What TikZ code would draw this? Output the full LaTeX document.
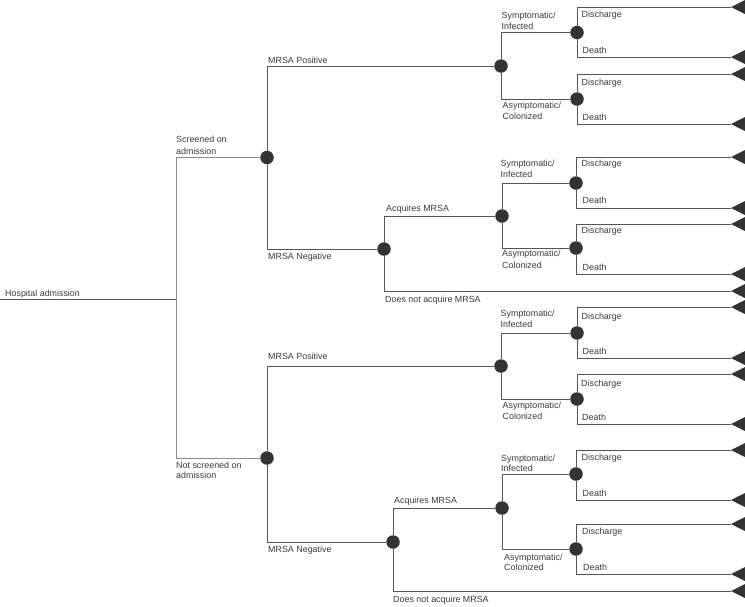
\documentclass[tikz,border=0pt]{standalone}
\usepackage{fontspec}
\setmainfont{Liberation Sans}
\begin{document}
\begin{tikzpicture}[x=1pt,y=-1pt,
  chance/.style={circle,fill=nodecol,draw=none,minimum size=13.5pt,inner sep=0pt},
  branch/.style={draw=linecol,line width=0.9pt},
  lightbranch/.style={draw=lightcol,line width=1pt},
  lab/.style={anchor=base west,inner sep=0pt,text=textcol,font=\fontsize{8.9}{10}\selectfont},
  termtri/.style={fill=nodecol}]
\definecolor{nodecol}{HTML}{333333}
\definecolor{linecol}{HTML}{555555}
\definecolor{lightcol}{HTML}{8C8C8C}
\definecolor{textcol}{HTML}{3A3A3A}
\useasboundingbox (0,0) rectangle (745,606);

% chance nodes
\node[chance] (c1) at (267,157.5) {};
\node[chance] (c2) at (267,458) {};
\node[chance] (c3) at (501,66) {};
\node[chance] (c4) at (384,249) {};
\node[chance] (c5) at (577,32.5) {};
\node[chance] (c6) at (577,99) {};
\node[chance] (c7) at (502,216) {};
\node[chance] (c8) at (576,183) {};
\node[chance] (c9) at (576,248) {};
\node[chance] (c10) at (501,366) {};
\node[chance] (c11) at (393,542) {};
\node[chance] (c12) at (577,333) {};
\node[chance] (c13) at (577,399) {};
\node[chance] (c14) at (502,508) {};
\node[chance] (c15) at (576,474) {};
\node[chance] (c16) at (576,549) {};

% root
\coordinate (r0) at (0,299);
\coordinate (j0) at (176,299);

% terminal apexes
\foreach \n/\y in {1/7,2/57,3/74,4/124,6/157,7/208,8/224,9/274,5/291,10/307,11/358,12/374,13/424,15/450,16/500,17/524,18/574,14/591}{
  \coordinate (t\n) at (731,\y);
  \fill[termtri] (t\n) -- ++(14,-7) -- ++(0,14) -- cycle;
}

% connectors
\draw[branch] (r0) -- (j0);
\draw[lightbranch] (j0) |- (c1);
\draw[lightbranch] (j0) |- (c2);

\draw[branch] (c1) |- (c3);
\draw[branch] (c1) |- (c4);
\draw[branch] (c3) |- (c5);
\draw[branch] (c3) |- (c6);
\draw[branch] (c5) |- (t1);
\draw[branch] (c5) |- (t2);
\draw[branch] (c6) |- (t3);
\draw[branch] (c6) |- (t4);
\draw[branch] (c4) |- (c7);
\draw[branch] (c4) |- (t5);
\draw[branch] (c7) |- (c8);
\draw[branch] (c7) |- (c9);
\draw[branch] (c8) |- (t6);
\draw[branch] (c8) |- (t7);
\draw[branch] (c9) |- (t8);
\draw[branch] (c9) |- (t9);

\draw[branch] (c2) |- (c10);
\draw[branch] (c2) |- (c11);
\draw[branch] (c10) |- (c12);
\draw[branch] (c10) |- (c13);
\draw[branch] (c12) |- (t10);
\draw[branch] (c12) |- (t11);
\draw[branch] (c13) |- (t12);
\draw[branch] (c13) |- (t13);
\draw[branch] (c11) |- (c14);
\draw[branch] (c11) |- (t14);
\draw[branch] (c14) |- (c15);
\draw[branch] (c14) |- (c16);
\draw[branch] (c15) |- (t15);
\draw[branch] (c15) |- (t16);
\draw[branch] (c16) |- (t17);
\draw[branch] (c16) |- (t18);

% labels
\node[lab] (l0) at (5,296) {Hospital admission};
\node[lab] (l1a) at (176,142.5) {Screened on};
\node[lab] (l1b) at (176,154) {admission};
\node[lab] (l2a) at (176,468) {Not screened on};
\node[lab] (l2b) at (176,478.5) {admission};

\node[lab] (l3) at (268,63) {MRSA Positive};
\node[lab] (l4) at (268,259.5) {MRSA Negative};
\node[lab] (l5) at (268,359) {MRSA Positive};
\node[lab] (l6) at (268,552) {MRSA Negative};

\node[lab] (l7) at (386,211) {Acquires MRSA};
\node[lab] (l8) at (385,302) {Does not acquire MRSA};
\node[lab] (l9) at (394,503) {Acquires MRSA};
\node[lab] (l10) at (393,602.5) {Does not acquire MRSA};

% symptomatic / asymptomatic
\foreach \i/\x/\ya/\yb in {a/501.5/18.3/29.3, b/500.5/166.7/177.7, c/500.5/316.7/327.7, d/501/461.7/471.7}{
  \node[lab] (s\i1) at (\x,\ya) {Symptomatic/};
  \node[lab] (s\i2) at (\x,\yb) {Infected};
}
\foreach \i/\x/\ya/\yb in {a/502.5/108.3/119, b/502/256.7/268.3, c/502.5/408.3/419.3, d/504/560/570.7}{
  \node[lab] (a\i1) at (\x,\ya) {Asymptomatic/};
  \node[lab] (a\i2) at (\x,\yb) {Colonized};
}
% discharge / death
\foreach \i/\x/\yd/\ye in {a/581.5/17.3/53.3, b/581.5/85/120, c/581.5/166.5/203.5, d/581.5/233/270, e/581.5/319/354.5, f/581/386.5/420.5, g/581.5/460.5/496.5, h/582/534.5/570.5}{
  \node[lab] (d\i) at (\x,\yd) {Discharge};
  \node[lab] (e\i) at (\x+1,\ye) {Death};
}
\end{tikzpicture}
\end{document}
